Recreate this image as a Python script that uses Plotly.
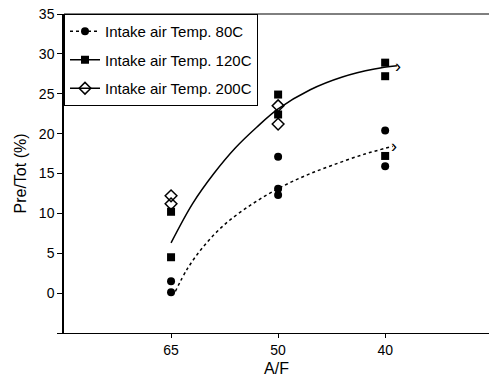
import plotly.graph_objects as go

# Category labels on the x axis (A/F)
categories = ["65", "50", "40"]
cat_pos = [0, 1, 2]

# Measured points (x as category index, y = Pre/Tot %)
x80 = [0, 0, 1, 1, 1, 2, 2]
y80 = [0.1, 1.5, 17.1, 13.1, 12.3, 20.4, 15.9]

x120 = [0, 0, 1, 1, 2, 2, 2]
y120 = [10.2, 4.5, 24.9, 22.4, 28.9, 27.2, 17.2]

x200 = [0, 0, 1, 1]
y200 = [12.2, 11.2, 23.5, 21.2]

# Trend curves
solid_x = [0.0, 0.2, 0.4, 0.6, 0.8, 1.0, 1.3, 1.6, 1.9, 2.11]
solid_y = [6.3, 11.2, 15.0, 18.2, 20.8, 23.1, 25.5, 27.1, 28.1, 28.5]
dot_x = [0.04, 0.15, 0.3, 0.5, 0.75, 1.0, 1.25, 1.5, 1.8, 2.07]
dot_y = [0.2, 3.0, 5.8, 8.6, 11.1, 13.1, 14.7, 16.0, 17.4, 18.4]

y_ticks = [-5, 0, 5, 10, 15, 20, 25, 30, 35]
y_labels = ["", "0", "5", "10", "15", "20", "25", "30", "35"]

FONT = "Liberation Sans, Arial, sans-serif"

fig = go.Figure()

fig.add_trace(go.Scatter(x=solid_x, y=solid_y, mode="lines", line=dict(color="black", width=1.5),
                         line_shape="spline", showlegend=False, hoverinfo="skip"))
fig.add_trace(go.Scatter(x=dot_x, y=dot_y, mode="lines", line=dict(color="black", width=1.5, dash="dot"),
                         line_shape="spline", showlegend=False, hoverinfo="skip"))

fig.add_trace(go.Scatter(x=x80, y=y80, mode="markers", showlegend=False,
                         marker=dict(symbol="circle", size=8, color="black")))
fig.add_trace(go.Scatter(x=x120, y=y120, mode="markers", showlegend=False,
                         marker=dict(symbol="square", size=8, color="black")))
fig.add_trace(go.Scatter(x=x200, y=y200, mode="markers", showlegend=False,
                         marker=dict(symbol="diamond-open", size=9, color="black", line=dict(width=1.5))))

# Legend entries
fig.add_trace(go.Scatter(x=[None], y=[None], mode="lines+markers", name="Intake air Temp. 80C", legendgroup="a",
                         line=dict(color="black", width=1.5, dash="dot"),
                         marker=dict(symbol="circle", size=8, color="black")))
fig.add_trace(go.Scatter(x=[None], y=[None], mode="lines+markers", name="Intake air Temp. 120C", legendgroup="b",
                         line=dict(color="black", width=1.5),
                         marker=dict(symbol="square", size=8, color="black")))
fig.add_trace(go.Scatter(x=[None], y=[None], mode="lines+markers", name="Intake air Temp. 200C", legendgroup="c",
                         line=dict(color="black", width=1.5),
                         marker=dict(symbol="diamond-open", size=9, color="black", line=dict(width=1.5))))

# Arrow heads at the ends of the trend curves
for cx, cy in ((solid_x, solid_y), (dot_x, dot_y)):
    fig.add_annotation(x=cx[-1], y=cy[-1], text="›", showarrow=False, xanchor="center", yanchor="middle",
                       xshift=1, font=dict(family=FONT, size=18, color="black"))

# top frame line
fig.add_shape(type="line", xref="paper", yref="paper", x0=0, x1=1, y0=1, y1=1,
              line=dict(color="black", width=1))

fig.update_layout(
    width=489, height=383,
    margin=dict(l=64, r=0, t=14, b=50),
    paper_bgcolor="white", plot_bgcolor="white",
    font=dict(family=FONT, size=14, color="black"),
    legend=dict(x=0, y=1, xanchor="left", yanchor="top", bgcolor="white",
                bordercolor="black", borderwidth=1, font=dict(size=15, family=FONT),
                itemwidth=30, tracegroupgap=6),
)
fig.update_xaxes(range=[-1, 2.97], tickvals=cat_pos, ticktext=categories,
                 showline=True, linecolor="black", linewidth=1,
                 ticks="outside", ticklen=4, tickcolor="black", showgrid=False, zeroline=False,
                 title=dict(text="A/F", font=dict(size=16), standoff=6))
fig.update_yaxes(range=[-5, 35], tickvals=y_ticks, ticktext=y_labels,
                 showline=True, linecolor="black", linewidth=1.5,
                 ticks="outside", ticklen=5, tickcolor="black", showgrid=False, zeroline=False,
                 title=dict(text="Pre/Tot (%)", font=dict(size=16), standoff=8))

fig.write_html("out.html", config={"displayModeBar": False})
